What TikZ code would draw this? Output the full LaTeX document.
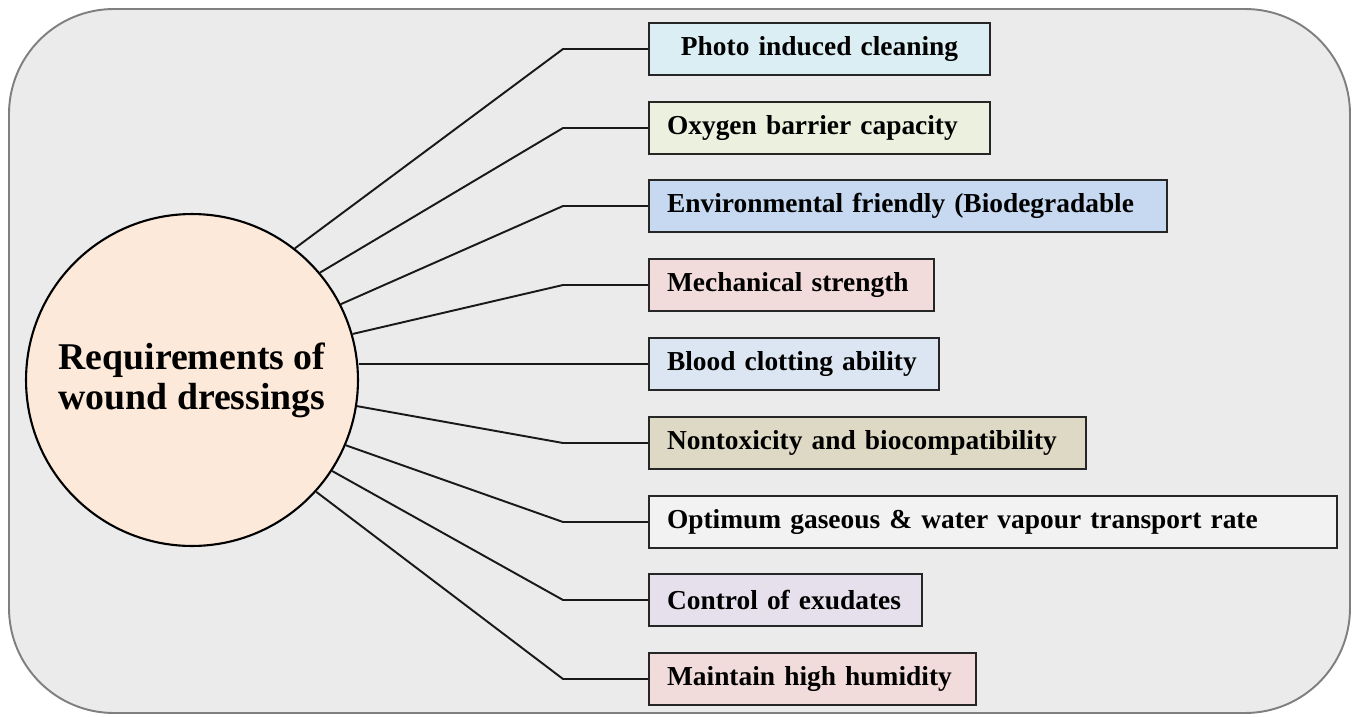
\documentclass[tikz,border=0pt]{standalone}
\usepackage{fontspec}
\setmainfont{Liberation Serif}
\usetikzlibrary{positioning}

\definecolor{panelgray}{HTML}{EBEBEB}
\definecolor{panelline}{HTML}{7F7F7F}
\definecolor{peach}{HTML}{FDE9D9}
\definecolor{cPhoto}{HTML}{DBEEF4}
\definecolor{cOxygen}{HTML}{EBF1DE}
\definecolor{cEnviron}{HTML}{C6D9F1}
\definecolor{cMech}{HTML}{F2DCDB}
\definecolor{cBlood}{HTML}{DCE6F2}
\definecolor{cToxic}{HTML}{DDD9C4}
\definecolor{cGas}{HTML}{F2F2F2}
\definecolor{cExud}{HTML}{E5E0EC}
\definecolor{cHumid}{HTML}{F2DCDB}

\newcommand{\boxtext}[1]{\mbox{#1}}

\begin{document}
\begin{tikzpicture}[x=0.02cm,y=-0.02cm,line width=1.1pt,
										node distance=0.52cm]
	\tikzset{
		reqbox/.style={draw=black!85,rectangle,anchor=west,minimum height=1.04cm,
			inner xsep=0.36cm,inner ysep=0pt,align=left,line width=1.2pt,
			font=\fontsize{15.6}{18}\selectfont\bfseries},
		link/.style={draw=black!90,line width=1.1pt}
	}
	\useasboundingbox (0,0) rectangle (1357,717);

	% panel
	\draw[panelline,fill=panelgray,line width=1.1pt,rounded corners=2.1cm]
		(9,9) rectangle (1350,713);

	\node[circle,draw=black,fill=peach,minimum size=6.64cm,inner sep=0pt,align=center,
				line width=1.2pt,font=\fontsize{21.5}{22.7}\selectfont\bfseries]
				(req) at (192,380) {Requirements of\\wound dressings};

	\node[reqbox,fill=cPhoto,text width=6.1cm,align=center] (photo)   at (648,49)  {\boxtext{Photo induced cleaning}};
	\node[reqbox,fill=cOxygen,text width=6.1cm]  (oxygen)  at (648,128) {\boxtext{Oxygen barrier capacity}};
	\node[reqbox,fill=cEnviron,text width=9.64cm] (environ) at (648,206) {\boxtext{Environmental friendly (Biodegradable}};
	\node[reqbox,fill=cMech,text width=4.98cm]   (mech)    at (648,285) {\boxtext{Mechanical strength}};
	\node[reqbox,fill=cBlood,text width=5.08cm]  (blood)   at (648,364) {\boxtext{Blood clotting ability}};
	\node[reqbox,fill=cToxic,text width=8.02cm]  (toxic)   at (648,443) {\boxtext{Nontoxicity and biocompatibility}};
	\node[reqbox,fill=cGas,text width=13.04cm]   (gas)     at (648,522) {\boxtext{Optimum gaseous \& water vapour transport rate}};
	\node[reqbox,fill=cExud,text width=4.74cm]   (exud)    at (648,600) {\boxtext{Control of exudates}};
	\node[reqbox,fill=cHumid,text width=5.82cm]  (humid)   at (648,679) {\boxtext{Maintain high humidity}};

	% connectors
	\draw[link] (req.52)  -- ([xshift=-1.7cm]photo.west)   -- (photo.west);
	\draw[link] (req.40)  -- ([xshift=-1.7cm]oxygen.west)  -- (oxygen.west);
	\draw[link] (req.27)  -- ([xshift=-1.7cm]environ.west) -- (environ.west);
	\draw[link] (req.16)  -- ([xshift=-1.7cm]mech.west)    -- (mech.west);
	\draw[link] (req.east |- blood.west) -- (blood.west);
	\draw[link] (req.-9)  -- ([xshift=-1.7cm]toxic.west)   -- (toxic.west);
	\draw[link] (req.-23) -- ([xshift=-1.7cm]gas.west)     -- (gas.west);
	\draw[link] (req.-33) -- ([xshift=-1.7cm]exud.west)    -- (exud.west);
	\draw[link] (req.-42) -- ([xshift=-1.7cm]humid.west)   -- (humid.west);
\end{tikzpicture}
\end{document}
